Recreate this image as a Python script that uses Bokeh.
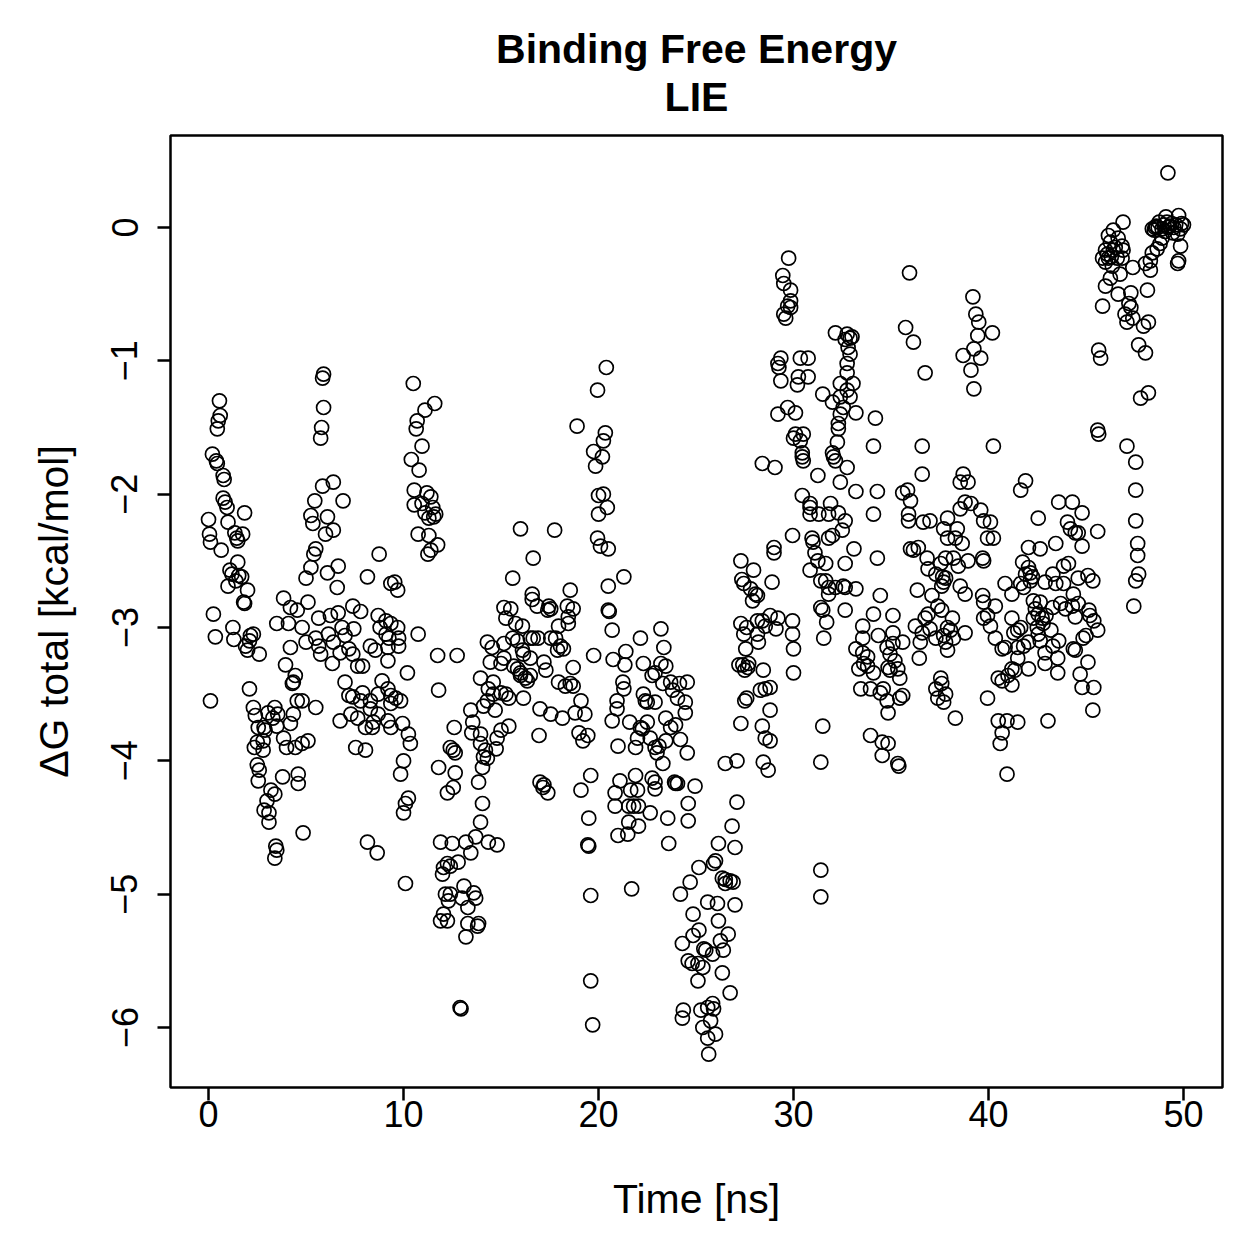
from bokeh.plotting import figure
from bokeh.models import Range1d, FixedTicker, ColumnDataSource
from bokeh.embed import file_html
from bokeh.resources import INLINE

# (time [ns], dG total [kcal/mol]), in blocks of ~5 ns
block_00_05 = [
    (0.0, -2.19), (0.05, -2.30), (0.1, -2.36), (0.1, -3.55), (0.25, -2.90), (0.35, -3.07), (0.2, -1.70),
    (0.4, -1.75), (0.45, -1.77), (0.45, -1.51), (0.5, -1.45), (0.56, -1.30), (0.6, -1.41), (0.65, -2.42),
    (0.75, -1.86), (0.8, -1.89), (0.75, -2.03), (0.85, -2.06), (0.95, -2.10), (1.0, -2.21), (1.0, -2.69),
    (1.1, -2.57), (1.2, -2.60), (1.25, -3.0), (1.3, -3.09), (1.35, -2.29), (1.45, -2.33), (1.5, -2.35),
    (1.5, -2.51), (1.4, -2.65), (1.55, -2.61), (1.7, -2.62), (1.75, -2.30), (1.8, -2.81), (1.85, -2.14),
    (1.85, -2.82), (1.9, -3.14), (2.0, -2.72), (2.0, -3.17), (2.1, -3.10), (2.1, -3.46), (2.15, -3.06),
    (2.3, -3.05), (2.3, -3.6), (2.35, -3.9), (2.4, -3.66), (2.5, -3.86), (2.5, -4.03), (2.6, -3.2),
    (2.55, -3.75), (2.6, -4.07), (2.55, -4.15), (2.8, -3.85), (2.8, -3.92), (2.85, -3.75), (2.85, -4.37),
    (2.9, -3.77), (3.0, -4.30), (3.05, -3.64), (3.1, -4.39), (3.1, -4.46), (3.2, -4.22), (3.3, -3.68),
    (3.4, -3.6), (3.4, -4.25), (3.4, -4.73), (3.45, -4.64), (3.5, -4.67), (3.5, -3.74), (3.55, -3.65),
    (3.8, -4.12), (3.5, -2.97), (3.85, -2.78), (3.85, -3.83), (3.95, -3.28), (4.0, -3.90), (4.2, -3.15),
    (4.3, -3.42), (4.1, -2.97),
]
block_05_10 = [
    (5.9, -1.10), (5.85, -1.13), (5.9, -1.35), (5.8, -1.5), (5.75, -1.58), (5.85, -1.94), (6.4, -1.91),
    (5.45, -2.05), (6.9, -2.05), (5.25, -2.16), (5.35, -2.22), (6.1, -2.17), (6.0, -2.3), (6.4, -2.27),
    (5.5, -2.41), (5.4, -2.45), (8.75, -2.45), (5.25, -2.55), (5.0, -2.63), (6.65, -2.54), (6.1, -2.59),
    (6.6, -2.70), (8.15, -2.62), (9.35, -2.67), (4.2, -2.85), (4.55, -2.87), (5.1, -2.81), (5.65, -2.93),
    (6.25, -2.91), (6.65, -2.89), (7.4, -2.84), (7.8, -2.88), (8.7, -2.91), (4.8, -3.0), (5.0, -3.11),
    (5.5, -3.08), (6.15, -3.05), (6.85, -3.0), (7.0, -3.06), (7.45, -3.01), (8.8, -3.0), (9.1, -3.05),
    (5.65, -3.14), (5.75, -3.2), (6.4, -3.11), (6.75, -3.19), (7.2, -3.16), (7.4, -3.2), (8.3, -3.14),
    (8.55, -3.17), (9.2, -3.25), (4.45, -3.36), (6.35, -3.27), (7.65, -3.29), (7.9, -3.29), (7.0, -3.41),
    (8.9, -3.4), (4.35, -3.41), (4.55, -3.55), (4.8, -3.55), (5.5, -3.6), (7.2, -3.51), (7.4, -3.52),
    (7.9, -3.49), (7.8, -3.55), (8.3, -3.55), (8.7, -3.5), (9.2, -3.46), (9.35, -3.51), (8.3, -3.61),
    (8.7, -3.65), (8.45, -3.71), (8.4, -3.75), (6.75, -3.7), (7.3, -3.65), (7.65, -3.68), (8.05, -3.75),
    (9.2, -3.7), (9.35, -3.75), (4.35, -3.65), (4.2, -3.72), (4.8, -3.87), (5.1, -3.85), (4.45, -3.9),
    (7.55, -3.9), (8.05, -3.92), (4.6, -4.1), (4.6, -4.17), (4.85, -4.54), (8.15, -4.61), (8.65, -4.69),
    (9.55, -2.66), (9.7, -2.72), (9.1, -2.95), (9.35, -2.97), (9.7, -3.0), (9.25, -3.08), (9.75, -3.08),
    (9.2, -3.15), (9.75, -3.14), (9.6, -3.53), (9.85, -3.55), (9.35, -3.57), (9.95, -3.72), (9.85, -4.1),
]
block_10_15 = [
    (10.5, -1.17), (11.6, -1.32), (11.1, -1.37), (10.7, -1.45), (10.65, -1.51), (10.95, -1.64), (10.4, -1.74),
    (10.8, -1.82), (10.55, -1.97), (11.2, -1.99), (11.4, -2.02), (10.55, -2.08), (10.95, -2.07), (11.1, -2.14),
    (11.5, -2.1), (11.55, -2.17), (11.3, -2.18), (11.65, -2.15), (10.75, -2.3), (11.3, -2.31), (11.75, -2.38),
    (11.4, -2.42), (11.25, -2.45), (10.75, -3.05), (11.75, -3.21), (12.75, -3.21), (10.2, -3.34), (11.8, -3.47),
    (10.25, -3.8), (10.35, -3.87), (13.45, -3.62), (13.55, -3.71), (13.5, -3.79), (12.6, -3.75), (12.4, -3.9),
    (12.55, -3.92), (12.65, -3.94), (10.0, -4.0), (11.8, -4.05), (12.65, -4.09), (12.55, -4.2), (12.25, -4.24),
    (10.25, -4.28), (10.1, -4.32), (10.0, -4.39), (10.1, -4.92), (11.9, -4.61), (12.5, -4.62), (13.2, -4.61),
    (13.7, -4.57), (13.45, -4.69), (12.25, -4.77), (12.05, -4.8), (12.8, -4.76), (13.95, -3.87), (14.75, -3.91),
    (14.3, -3.98), (14.05, -4.05), (13.85, -4.16), (14.05, -4.32), (13.95, -4.46), (15.0, -3.77), (15.4, -3.74),
    (14.35, -4.61), (14.8, -4.63), (12.0, -4.85), (12.4, -4.79), (12.15, -5.0), (12.4, -5.0), (12.3, -5.05),
    (13.1, -4.94), (13.0, -5.03), (13.6, -4.99), (13.3, -5.1), (13.7, -5.03), (12.05, -5.15), (11.9, -5.2),
    (12.25, -5.2), (13.3, -5.22), (13.85, -5.22), (13.8, -5.24), (13.2, -5.32), (12.9, -5.85), (12.95, -5.86),
    (14.3, -3.11), (14.55, -3.15), (14.45, -3.26), (13.95, -3.38), (14.6, -3.41), (14.35, -3.46), (14.6, -3.5),
    (14.3, -3.55), (14.7, -3.62), (14.1, -3.59), (14.8, -3.83), (14.2, -3.92), (14.1, -3.97), (13.95, -3.8),
]
block_15_20 = [
    (18.9, -1.49), (16.0, -2.26), (17.75, -2.27), (16.65, -2.48), (15.6, -2.63), (18.55, -2.72), (16.6, -2.75),
    (16.6, -2.79), (16.85, -2.84), (15.15, -2.85), (15.5, -2.86), (17.45, -2.84), (17.55, -2.86), (17.4, -2.87),
    (15.25, -2.93), (15.75, -2.97), (16.1, -2.99), (18.4, -2.84), (18.7, -2.86), (18.45, -2.92), (18.45, -2.97),
    (17.95, -2.99), (15.15, -3.12), (15.6, -3.08), (15.85, -3.1), (16.5, -3.08), (16.65, -3.08), (16.9, -3.08),
    (17.55, -3.08), (17.8, -3.08), (18.05, -3.14), (18.2, -3.16), (17.9, -3.17), (15.15, -3.23), (15.0, -3.27),
    (16.1, -3.17), (16.15, -3.2), (15.65, -3.29), (16.5, -3.23), (17.2, -3.26), (17.3, -3.32), (16.0, -3.34),
    (15.85, -3.31), (18.7, -3.3), (16.0, -3.36), (16.25, -3.38), (16.5, -3.36), (16.35, -3.40), (17.95, -3.41),
    (18.3, -3.44), (18.55, -3.42), (18.7, -3.44), (15.0, -3.49), (15.25, -3.5), (15.4, -3.53), (16.15, -3.53),
    (19.1, -3.55), (18.8, -3.64), (17.0, -3.61), (17.55, -3.65), (18.15, -3.68), (16.95, -3.81), (19.0, -3.79),
    (17.0, -4.16), (17.2, -4.18), (17.15, -4.2), (17.4, -4.24), (19.1, -4.22), (19.3, -3.65), (19.45, -3.81),
    (19.2, -3.85), (19.6, -4.11), (19.5, -4.43), (19.45, -4.63), (19.5, -4.64), (19.6, -5.01), (19.6, -5.65),
    (19.7, -5.98), (19.75, -3.21), (20.4, -1.05), (19.95, -1.22), (19.75, -1.68), (19.85, -1.79), (20.0, -2.01),
    (20.0, -2.15), (19.95, -2.33),
]
block_20_25 = [
    (20.35, -1.54), (20.25, -1.6), (20.2, -1.72), (20.25, -2.0), (20.45, -2.1), (20.1, -2.39), (20.5, -2.41),
    (21.3, -2.62), (20.5, -2.69), (20.5, -2.87), (20.55, -2.88), (20.7, -3.02), (23.2, -3.01), (22.15, -3.08),
    (23.35, -3.15), (21.4, -3.18), (20.75, -3.24), (21.35, -3.28), (22.3, -3.27), (23.2, -3.27), (23.45, -3.29),
    (22.9, -3.34), (22.75, -3.36), (23.3, -3.42), (23.7, -3.41), (23.8, -3.47), (21.25, -3.41), (21.3, -3.46),
    (20.95, -3.55), (20.95, -3.61), (20.7, -3.7), (22.3, -3.5), (22.4, -3.55), (22.5, -3.56), (22.9, -3.56),
    (21.6, -3.71), (22.15, -3.75), (22.5, -3.71), (22.25, -3.76), (23.45, -3.68), (23.7, -3.75), (22.65, -3.83),
    (23.45, -3.85), (23.1, -3.89), (22.9, -3.9), (21.0, -3.89), (21.9, -3.9), (22.0, -3.83), (23.3, -4.02),
    (23.0, -3.94), (21.1, -4.15), (20.85, -4.24), (21.9, -4.11), (22.0, -4.22), (21.65, -4.22), (22.75, -4.13),
    (22.9, -4.16), (22.9, -4.21), (23.95, -4.17), (20.85, -4.34), (21.55, -4.34), (21.8, -4.34), (22.05, -4.34),
    (22.65, -4.39), (21.55, -4.46), (22.05, -4.49), (23.55, -4.43), (21.0, -4.56), (21.5, -4.55), (21.7, -4.96),
    (24.15, -3.42), (24.55, -3.41), (24.05, -3.53), (24.45, -3.56), (24.45, -3.64), (23.95, -3.73), (24.2, -3.84),
    (24.55, -3.94), (23.9, -4.16), (24.05, -4.17), (24.95, -4.19), (24.6, -4.32), (24.6, -4.45), (23.6, -4.62),
    (24.7, -4.91), (24.2, -5.0), (24.85, -5.15), (24.85, -5.31), (24.3, -5.37), (24.6, -5.5), (24.8, -5.52),
    (24.35, -5.87), (24.3, -5.93),
]
block_25_30 = [
    (26.5, -4.02), (27.1, -4.0), (27.1, -4.31), (26.85, -4.49), (27.0, -4.65), (26.15, -4.62), (26.0, -4.75),
    (25.9, -4.77), (25.15, -4.8), (26.35, -4.88), (26.5, -4.89), (26.75, -4.9), (26.5, -4.92), (26.9, -4.91),
    (25.6, -5.06), (26.1, -5.07), (27.0, -5.08), (26.15, -5.2), (25.15, -5.27), (26.65, -5.3), (26.25, -5.35),
    (26.4, -5.42), (25.4, -5.41), (25.5, -5.42), (25.1, -5.52), (25.35, -5.55), (25.85, -5.45), (26.35, -5.59),
    (25.1, -5.65), (26.75, -5.74), (25.25, -5.87), (25.6, -5.85), (25.85, -5.82), (25.9, -5.86), (25.75, -5.95),
    (25.35, -6.0), (26.0, -6.05), (25.6, -6.08), (25.65, -6.2),
    (29.75, -0.23), (29.45, -0.36), (29.5, -0.42), (29.85, -0.47), (29.85, -0.55), (29.7, -0.59), (29.85, -0.6),
    (29.5, -0.65), (29.6, -0.68), (29.35, -0.98), (29.25, -1.05), (29.2, -1.02), (29.35, -1.15), (29.7, -1.35),
    (29.2, -1.4), (28.4, -1.77), (29.05, -1.8), (29.95, -2.31), (29.0, -2.4), (29.0, -2.44), (27.3, -2.5),
    (27.95, -2.57), (27.8, -2.71), (28.05, -2.75), (28.15, -2.76), (27.9, -2.8), (28.9, -2.66), (27.35, -2.64),
    (27.45, -2.67), (28.8, -2.91), (29.2, -2.93), (29.95, -2.95), (29.95, -3.05), (29.1, -3.01), (27.3, -2.97),
    (27.6, -3.0), (28.15, -2.95), (28.4, -2.95), (28.55, -2.99), (27.45, -3.05), (28.15, -3.05), (28.2, -3.11),
    (27.55, -3.16), (27.7, -3.27), (27.65, -3.3), (28.45, -3.32), (28.3, -3.47), (28.55, -3.46), (28.8, -3.45),
    (28.8, -3.62), (27.3, -3.72), (28.4, -3.74), (28.55, -3.83), (27.2, -3.28), (27.4, -3.28), (27.5, -3.32),
    (27.5, -3.55), (27.6, -3.53), (28.45, -4.01), (28.7, -4.07), (28.8, -3.85), (30.0, -3.16), (30.0, -3.34),
]
block_30_35 = [
    (32.15, -0.79), (32.75, -0.8), (32.8, -0.9), (30.35, -0.98), (30.75, -0.98), (30.25, -1.12), (30.75, -1.12),
    (32.75, -1.02), (30.2, -1.18), (31.5, -1.25), (32.0, -1.31), (32.4, -1.17), (32.4, -1.27), (32.75, -1.22),
    (30.1, -1.39), (32.4, -1.4), (32.3, -1.47), (30.1, -1.55), (30.5, -1.55), (30.0, -1.58), (30.35, -1.6),
    (32.3, -1.51), (32.25, -1.61), (30.45, -1.69), (30.45, -1.72), (30.5, -1.75), (32.0, -1.69), (32.05, -1.72),
    (32.15, -1.75), (31.25, -1.86), (32.75, -1.8), (30.45, -2.01), (30.85, -2.07), (30.85, -2.15), (30.85, -2.1),
    (31.3, -2.15), (31.8, -2.15), (32.3, -2.14), (31.9, -2.07), (30.95, -2.33), (31.0, -2.36), (31.1, -2.44),
    (31.25, -2.5), (30.85, -2.57), (31.65, -2.52), (31.8, -2.33), (32.0, -2.31), (32.65, -2.52), (32.55, -2.69),
    (31.4, -2.65), (31.65, -2.65), (31.8, -2.7), (31.8, -2.75), (31.4, -2.85), (31.5, -2.87), (32.15, -2.7),
    (31.5, -3.74), (31.4, -4.01), (31.4, -4.82), (31.4, -5.02), (31.55, -3.08), (31.7, -2.96),
    (32.9, -0.83), (33.0, -0.82), (32.65, -0.84), (32.9, -0.95), (32.75, -1.09), (33.05, -1.17), (32.9, -1.27),
    (32.55, -1.35), (33.2, -1.39), (34.2, -1.43), (34.1, -1.64), (32.4, -1.91), (33.2, -1.98), (34.3, -1.98),
    (34.1, -2.15), (32.65, -2.2), (32.5, -2.27), (33.1, -2.41), (34.3, -2.48), (32.65, -2.7), (33.2, -2.71),
    (34.45, -2.76), (32.65, -2.87), (34.1, -2.9), (33.55, -2.99), (33.55, -3.08), (34.35, -3.06), (33.2, -3.16),
    (33.55, -3.19), (33.8, -3.22), (33.6, -3.27), (33.8, -3.29), (33.35, -3.31), (34.1, -3.34), (34.8, -3.15),
    (34.95, -3.2), (34.85, -3.3), (34.95, -3.32), (33.45, -3.46), (33.95, -3.46), (34.6, -3.46), (34.45, -3.49),
    (34.8, -3.55), (34.85, -3.64), (33.95, -3.81), (34.55, -3.86), (34.85, -3.87), (34.55, -3.96),
]
block_35_40 = [
    (35.75, -0.75), (36.15, -0.86), (36.75, -1.09), (36.6, -1.64), (36.6, -1.85), (35.6, -1.99), (35.85, -1.97),
    (36.0, -2.05), (35.9, -2.15), (35.9, -2.2), (36.65, -2.21), (37.0, -2.2), (37.9, -2.18), (36.4, -2.4),
    (36.0, -2.41), (36.15, -2.42), (36.85, -2.48), (37.55, -2.52), (36.9, -2.56), (37.3, -2.6), (37.65, -2.62),
    (37.8, -2.63), (36.35, -2.72), (37.1, -2.76), (35.1, -2.91), (37.4, -2.84), (36.9, -2.9), (36.75, -2.93),
    (35.1, -3.04), (35.6, -3.11), (35.1, -3.12), (36.25, -2.99), (36.6, -3.04), (37.0, -3.01), (37.3, -3.08),
    (36.5, -3.11), (37.9, -3.0), (35.2, -3.25), (35.35, -3.31), (35.45, -3.38), (36.45, -3.23), (37.9, -3.17),
    (35.6, -3.51), (35.45, -3.53), (37.3, -3.46), (37.4, -3.53), (37.7, -3.56), (35.35, -4.02), (35.4, -4.04),
    (35.95, -0.34), (39.2, -0.52), (39.35, -0.65), (39.5, -0.71), (39.45, -0.81), (39.25, -0.91), (38.7, -0.96),
    (39.6, -0.98), (39.1, -1.07), (39.25, -1.21), (38.7, -1.85), (38.55, -1.91), (38.95, -1.91), (38.8, -2.06),
    (39.1, -2.07), (38.55, -2.11), (39.6, -2.12), (39.75, -2.2), (37.7, -2.26), (38.4, -2.26), (37.9, -2.33),
    (38.3, -2.33), (38.65, -2.37), (39.95, -2.33), (38.2, -2.48), (37.8, -2.48), (38.45, -2.54), (38.95, -2.5),
    (39.7, -2.48), (39.75, -2.5), (37.7, -2.66), (37.6, -2.69), (38.55, -2.69), (38.8, -2.75), (39.7, -2.76),
    (39.75, -2.81), (39.95, -2.91), (39.75, -2.93), (37.6, -2.87), (38.15, -2.93), (38.05, -3.02), (38.2, -3.08),
    (37.8, -3.11), (38.8, -3.04), (37.7, -3.06), (39.95, -3.53), (37.55, -3.38), (37.6, -3.42), (37.8, -3.5),
    (38.3, -3.68),
]
block_40_45 = [
    (40.2, -0.79), (40.25, -1.64), (41.9, -1.9), (41.65, -1.97), (42.55, -2.18), (40.1, -2.21), (40.25, -2.33),
    (42.05, -2.4), (42.65, -2.41), (41.75, -2.51), (42.05, -2.55), (42.15, -2.59), (42.25, -2.62), (41.9, -2.6),
    (40.85, -2.67), (41.2, -2.75), (41.65, -2.67), (41.8, -2.7), (42.15, -2.65), (40.35, -2.84), (40.1, -2.99),
    (40.35, -3.08), (42.3, -2.8), (42.65, -2.81), (42.4, -2.86), (42.55, -2.9), (42.75, -2.93), (42.8, -2.97),
    (42.3, -2.93), (42.5, -3.0), (42.55, -3.05), (42.65, -3.1), (41.2, -2.93), (41.5, -3.02), (41.65, -3.0),
    (41.3, -3.04), (41.8, -3.14), (41.5, -3.15), (42.05, -3.11), (40.7, -3.16), (40.85, -3.15), (41.5, -3.23),
    (42.05, -3.31), (41.2, -3.31), (41.35, -3.32), (41.0, -3.36), (40.5, -3.38), (40.7, -3.4), (41.2, -3.43),
    (40.5, -3.7), (40.95, -3.7), (41.5, -3.71), (40.7, -3.79), (40.6, -3.87), (40.95, -4.1), (43.05, -3.7),
    (43.6, -2.06), (44.3, -2.06), (44.8, -2.14), (44.05, -2.21), (44.2, -2.26), (44.45, -2.29), (44.6, -2.29),
    (43.45, -2.37), (44.8, -2.39), (43.85, -2.54), (44.1, -2.52), (43.3, -2.6), (42.9, -2.66), (43.45, -2.67),
    (43.85, -2.67), (44.6, -2.63), (44.35, -2.75), (43.3, -2.85), (43.7, -2.82), (43.95, -2.86), (44.3, -2.84),
    (44.6, -2.82), (42.95, -2.91), (44.45, -2.92), (43.2, -3.02), (43.6, -3.1), (43.3, -3.14), (42.9, -3.19),
    (44.85, -3.08), (44.35, -3.16), (44.45, -3.17), (43.55, -3.23), (43.55, -3.34), (42.9, -3.27), (44.7, -3.35),
    (44.8, -3.45),
]
block_45_50 = [
    (45.1, -2.61), (45.35, -2.65), (45.15, -2.87), (45.2, -2.91), (45.4, -2.95), (45.6, -3.02), (45.0, -3.06),
    (45.1, -3.26), (45.4, -3.45), (45.35, -3.62), (45.6, -2.28), (45.6, -1.52), (45.65, -1.55), (47.1, -1.64),
    (47.55, -1.76), (47.55, -1.97), (47.55, -2.2), (47.65, -2.37), (47.65, -2.46), (47.55, -2.65), (47.7, -2.6),
    (47.45, -2.84), (49.2, 0.41), (49.1, 0.08), (49.75, 0.09), (48.4, -0.01), (48.55, 0.0), (48.9, -0.01),
    (49.2, 0.0), (49.5, 0.0), (49.85, -0.01), (50.0, 0.02), (48.75, 0.04), (49.15, 0.04), (49.7, -0.05),
    (49.85, -0.14), (49.75, -0.25), (49.7, -0.27), (49.45, -0.04), (48.9, -0.08), (48.8, -0.12), (48.65, -0.16),
    (48.4, -0.19), (48.3, -0.25), (48.05, -0.27), (48.3, -0.32), (46.9, 0.04), (46.4, -0.02), (46.15, -0.06),
    (46.65, -0.08), (46.25, -0.11), (46.85, -0.14), (46.0, -0.17), (46.4, -0.17), (46.9, -0.17), (45.85, -0.23),
    (46.15, -0.23), (46.6, -0.23), (46.85, -0.23), (46.0, -0.26), (46.35, -0.29), (47.4, -0.3), (46.75, -0.35),
    (46.25, -0.38), (46.0, -0.44), (46.65, -0.5), (48.15, -0.47), (47.3, -0.49), (47.2, -0.57), (47.3, -0.6),
    (47.0, -0.65), (47.1, -0.71), (47.4, -0.68), (47.95, -0.74), (48.2, -0.71), (45.85, -0.59), (45.65, -0.92),
    (45.75, -0.98), (47.7, -0.88), (48.05, -0.94), (47.8, -1.28), (48.2, -1.24), (48.6, 0.01), (48.7, 0.0),
    (49.0, 0.02), (49.3, 0.01), (49.4, 0.03), (49.6, 0.02), (49.9, 0.03), (48.5, -0.02), (49.05, -0.03),
    (46.1, -0.2), (46.3, -0.22), (46.5, -0.15),
]

x_ticks = [0, 10, 20, 30, 40, 50]
y_ticks = [-6, -5, -4, -3, -2, -1, 0]
title_lines = ["Binding Free Energy", "LIE"]
x_label = "Time [ns]"
y_label = "\u0394G total [kcal/mol]"

blocks = [block_00_05, block_05_10, block_10_15, block_15_20, block_20_25,
          block_25_30, block_30_35, block_35_40, block_40_45, block_45_50]
time_ns = [t for b in blocks for (t, g) in b]
dg_total = [g for b in blocks for (t, g) in b]
src = ColumnDataSource(data=dict(t=time_ns, g=dg_total))

FONT = "Liberation Sans"

p = figure(width=1259, height=1259, output_backend="svg", toolbar_location=None,
           x_range=Range1d(-1.95, 52.0), y_range=Range1d(-6.45, 0.69),
           min_border_left=170, min_border_right=37, min_border_top=135, min_border_bottom=172,
           title="\n".join(title_lines))

p.title.align = "center"
p.title.text_align = "center"
p.title.text_font = FONT
p.title.text_font_size = "41px"
p.title.text_font_style = "bold"
p.title.text_color = "black"
p.title.text_line_height = 1.05
p.title.standoff = 31

p.scatter("t", "g", source=src, marker="circle", size=14, fill_color=None,
          line_color="black", line_width=1.7)

p.xgrid.visible = False
p.ygrid.visible = False
p.background_fill_color = "white"
p.border_fill_color = "white"
p.outline_line_color = "black"
p.outline_line_width = 2.5

for ax in (p.xaxis[0], p.yaxis[0]):
    ax.axis_line_color = None
    ax.major_tick_in = 0
    ax.major_tick_out = 13
    ax.major_tick_line_width = 2.5
    ax.major_tick_line_color = "black"
    ax.minor_tick_line_color = None
    ax.major_label_text_font = FONT
    ax.major_label_text_font_size = "36px"
    ax.major_label_text_color = "black"
    ax.axis_label_text_font = FONT
    ax.axis_label_text_font_size = "41px"
    ax.axis_label_text_font_style = "normal"
    ax.axis_label_text_color = "black"

p.xaxis[0].ticker = FixedTicker(ticks=x_ticks)
p.yaxis[0].ticker = FixedTicker(ticks=y_ticks)
p.xaxis[0].axis_label = x_label
p.yaxis[0].axis_label = y_label
p.xaxis[0].major_label_standoff = 0
p.xaxis[0].axis_label_standoff = 46
p.yaxis[0].major_label_orientation = "vertical"
p.yaxis[0].major_label_standoff = 20
p.yaxis[0].axis_label_standoff = 32

open("out.html", "w").write(file_html(p, INLINE))
